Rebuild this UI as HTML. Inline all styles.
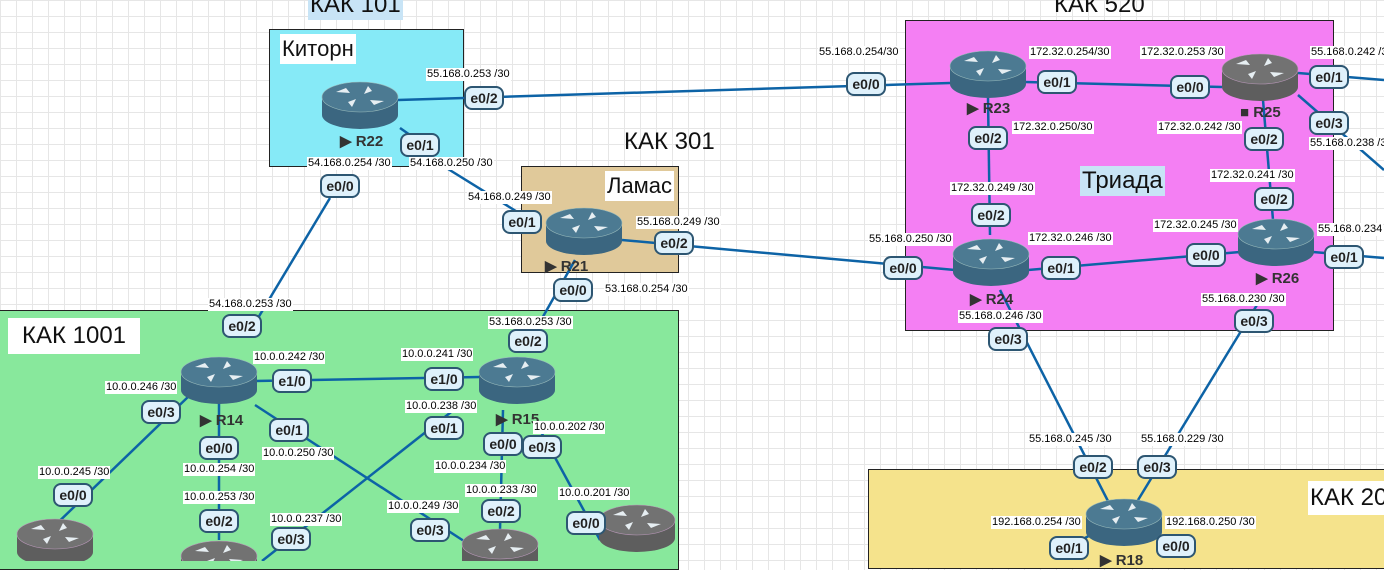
<!DOCTYPE html>
<html><head><meta charset="utf-8"><style>
body{margin:0;width:1384px;height:561px;overflow:hidden;position:relative;font-family:"Liberation Sans",sans-serif;
background-color:#fff;background-image:linear-gradient(#e6e6e6 1px,transparent 1px),linear-gradient(90deg,#e6e6e6 1px,transparent 1px);background-size:16px 16px;}
.b{position:absolute;border:1px solid #222;box-sizing:border-box}
.t{position:absolute;font-size:24px;color:#111;line-height:30px;padding:0 2px;white-space:nowrap}
.ip{position:absolute;background:#fff;font-size:11px;line-height:13px;color:#000;padding:0 1px;white-space:nowrap}
.p{position:absolute;width:36px;height:20px;border:2px solid #2d5672;border-radius:8px;background:#dff1fb;font-weight:bold;font-size:14px;line-height:20px;text-align:center;color:#222}
.n{position:absolute;font-weight:bold;font-size:15px;color:#333;white-space:nowrap}
svg{position:absolute;left:0;top:0}
</style></head><body>
<div class="b" style="left:269px;top:29px;width:195px;height:138px;background:#86eaf7"></div>
<div class="b" style="left:521px;top:166px;width:158px;height:107px;background:#e0c99a"></div>
<div class="b" style="left:905px;top:20px;width:429px;height:311px;background:#f47ff3"></div>
<div class="b" style="left:-2px;top:310px;width:681px;height:260px;background:#88e89c"></div>
<div class="b" style="left:868px;top:469px;width:520px;height:100px;background:#f5e38c"></div>

<div class="t" style="left:308px;top:-10px;background:#c8e4f6">КАК 101</div>
<div class="t" style="left:280px;top:34px;background:#fff;font-size:22px">Китoрн</div>
<div class="t" style="left:622px;top:127px">КАК 301</div>
<div class="t" style="left:605px;top:171px;background:#fff;font-size:22px">Ламас</div>
<div class="t" style="left:1052px;top:-10px">КАК 520</div>
<div class="t" style="left:1080px;top:166px;background:#c8e4f6">Триада</div>
<div class="t" style="left:8px;top:318px;background:#fff;padding:3px 14px">КАК 1001</div>
<div class="t" style="left:1308px;top:481px;background:#fff;padding:2px 20px 2px 2px">КАК 20</div>

<svg width="1384" height="561">
<g stroke="#0d63a6" stroke-width="2.5" fill="none">
<line x1="398" y1="100" x2="950" y2="83"/>
<line x1="400" y1="128" x2="420" y2="142"/>
<line x1="440" y1="164" x2="540" y2="226"/>
<line x1="330" y1="198" x2="258" y2="318"/>
<line x1="622" y1="240" x2="955" y2="270"/>
<line x1="575" y1="260" x2="527" y2="345"/>
<line x1="1025" y1="82" x2="1222" y2="87"/>
<line x1="988" y1="98" x2="990" y2="235"/>
<line x1="1263" y1="100" x2="1273" y2="220"/>
<line x1="1028" y1="270" x2="1240" y2="252"/>
<line x1="1298" y1="73" x2="1384" y2="80"/>
<line x1="1298" y1="95" x2="1384" y2="170"/>
<line x1="1313" y1="252" x2="1384" y2="258"/>
<line x1="1000" y1="290" x2="1110" y2="505"/>
<line x1="1260" y1="300" x2="1135" y2="505"/>
<line x1="255" y1="381" x2="480" y2="377"/>
<line x1="190" y1="395" x2="45" y2="535"/>
<line x1="255" y1="405" x2="470" y2="545"/>
<line x1="460" y1="405" x2="262" y2="561"/>
<line x1="219" y1="400" x2="219" y2="540"/>
<line x1="503" y1="410" x2="500" y2="530"/>
<line x1="540" y1="430" x2="600" y2="540"/>
<line x1="1068" y1="547" x2="1100" y2="530"/>
<line x1="1175" y1="545" x2="1150" y2="530"/>
</g>
<defs>
<g id="ar" fill="#e6eef2"><path d="M-24,-11 l14,1 -4,-5z M24,-2 l-14,-1 4,5z M-8,4 l4,-8 -8,3z M8,-17 l-4,8 8,-3z"/></g>
<g id="rb"><path d="M-38,-6 L-38,12 A38,14 0 0 0 38,12 L38,-6 Z" fill="#3b6680"/><ellipse cx="0" cy="-6" rx="38" ry="15" fill="#4c7a92" stroke="#9bb" stroke-width="0.6"/><use href="#ar"/></g>
<g id="rg"><path d="M-38,-6 L-38,12 A38,14 0 0 0 38,12 L38,-6 Z" fill="#5e5e5e"/><ellipse cx="0" cy="-6" rx="38" ry="15" fill="#727272" stroke="#b9b" stroke-width="0.6"/><use href="#ar"/></g>
</defs>
<use href="#rb" x="360" y="103"/>
<use href="#rb" x="584" y="229"/>
<use href="#rb" x="988" y="72"/>
<use href="#rg" x="1260" y="75"/>
<use href="#rb" x="991" y="260"/>
<use href="#rb" x="1276" y="240"/>
<use href="#rb" x="219" y="378"/>
<use href="#rb" x="517" y="378"/>
<use href="#rg" x="55" y="540"/>
<use href="#rg" x="219" y="562"/>
<use href="#rg" x="500" y="550"/>
<use href="#rg" x="637" y="526"/>
<use href="#rb" x="1124" y="520"/>
</svg>

<div class="n" style="left:340px;top:132px">▶ R22</div>
<div class="n" style="left:545px;top:257px">▶ R21</div>
<div class="n" style="left:967px;top:99px">▶ R23</div>
<div class="n" style="left:1240px;top:104px">■ R25</div>
<div class="n" style="left:970px;top:290px">▶ R24</div>
<div class="n" style="left:1256px;top:269px">▶ R26</div>
<div class="n" style="left:200px;top:411px">▶ R14</div>
<div class="n" style="left:496px;top:410px">▶ R15</div>
<div class="n" style="left:1100px;top:551px">▶ R18</div>

<div class="p" style="left:464px;top:86px">e0/2</div>
<div class="p" style="left:846px;top:72px">e0/0</div>
<div class="p" style="left:400px;top:133px">e0/1</div>
<div class="p" style="left:320px;top:174px">e0/0</div>
<div class="p" style="left:502px;top:210px">e0/1</div>
<div class="p" style="left:654px;top:231px">e0/2</div>
<div class="p" style="left:553px;top:278px">e0/0</div>
<div class="p" style="left:1037px;top:70px">e0/1</div>
<div class="p" style="left:1170px;top:75px">e0/0</div>
<div class="p" style="left:1309px;top:65px">e0/1</div>
<div class="p" style="left:1309px;top:111px">e0/3</div>
<div class="p" style="left:968px;top:126px">e0/2</div>
<div class="p" style="left:1244px;top:127px">e0/2</div>
<div class="p" style="left:1254px;top:187px">e0/2</div>
<div class="p" style="left:971px;top:203px">e0/2</div>
<div class="p" style="left:1186px;top:243px">e0/0</div>
<div class="p" style="left:1324px;top:245px">e0/1</div>
<div class="p" style="left:883px;top:256px">e0/0</div>
<div class="p" style="left:1041px;top:256px">e0/1</div>
<div class="p" style="left:1234px;top:309px">e0/3</div>
<div class="p" style="left:988px;top:327px">e0/3</div>
<div class="p" style="left:1073px;top:455px">e0/2</div>
<div class="p" style="left:1137px;top:455px">e0/3</div>
<div class="p" style="left:1049px;top:536px">e0/1</div>
<div class="p" style="left:1156px;top:534px">e0/0</div>
<div class="p" style="left:222px;top:314px">e0/2</div>
<div class="p" style="left:508px;top:329px">e0/2</div>
<div class="p" style="left:272px;top:369px">e1/0</div>
<div class="p" style="left:424px;top:367px">e1/0</div>
<div class="p" style="left:141px;top:400px">e0/3</div>
<div class="p" style="left:269px;top:418px">e0/1</div>
<div class="p" style="left:424px;top:416px">e0/1</div>
<div class="p" style="left:199px;top:436px">e0/0</div>
<div class="p" style="left:483px;top:432px">e0/0</div>
<div class="p" style="left:522px;top:435px">e0/3</div>
<div class="p" style="left:53px;top:483px">e0/0</div>
<div class="p" style="left:481px;top:499px">e0/2</div>
<div class="p" style="left:199px;top:509px">e0/2</div>
<div class="p" style="left:566px;top:511px">e0/0</div>
<div class="p" style="left:271px;top:527px">e0/3</div>
<div class="p" style="left:410px;top:518px">e0/3</div>

<div class="ip" style="left:426px;top:68px">55.168.0.253 /30</div>
<div class="ip" style="left:307px;top:157px">54.168.0.254 /30</div>
<div class="ip" style="left:409px;top:157px">54.168.0.250 /30</div>
<div class="ip" style="left:467px;top:191px">54.168.0.249 /30</div>
<div class="ip" style="left:636px;top:216px">55.168.0.249 /30</div>
<div class="ip" style="left:604px;top:283px">53.168.0.254 /30</div>
<div class="ip" style="left:208px;top:298px">54.168.0.253 /30</div>
<div class="ip" style="left:488px;top:316px">53.168.0.253 /30</div>
<div class="ip" style="left:818px;top:46px">55.168.0.254/30</div>
<div class="ip" style="left:1029px;top:46px">172.32.0.254/30</div>
<div class="ip" style="left:1140px;top:46px">172.32.0.253 /30</div>
<div class="ip" style="left:1310px;top:46px">55.168.0.242 /30</div>
<div class="ip" style="left:1012px;top:121px">172.32.0.250/30</div>
<div class="ip" style="left:1157px;top:121px">172.32.0.242 /30</div>
<div class="ip" style="left:1309px;top:137px">55.168.0.238 /30</div>
<div class="ip" style="left:950px;top:182px">172.32.0.249 /30</div>
<div class="ip" style="left:1210px;top:169px">172.32.0.241 /30</div>
<div class="ip" style="left:1028px;top:232px">172.32.0.246 /30</div>
<div class="ip" style="left:1153px;top:219px">172.32.0.245 /30</div>
<div class="ip" style="left:1317px;top:223px">55.168.0.234</div>
<div class="ip" style="left:868px;top:233px">55.168.0.250 /30</div>
<div class="ip" style="left:1201px;top:293px">55.168.0.230 /30</div>
<div class="ip" style="left:958px;top:310px">55.168.0.246 /30</div>
<div class="ip" style="left:253px;top:351px">10.0.0.242 /30</div>
<div class="ip" style="left:401px;top:348px">10.0.0.241 /30</div>
<div class="ip" style="left:105px;top:381px">10.0.0.246 /30</div>
<div class="ip" style="left:405px;top:400px">10.0.0.238 /30</div>
<div class="ip" style="left:533px;top:421px">10.0.0.202 /30</div>
<div class="ip" style="left:262px;top:447px">10.0.0.250 /30</div>
<div class="ip" style="left:183px;top:463px">10.0.0.254 /30</div>
<div class="ip" style="left:434px;top:460px">10.0.0.234 /30</div>
<div class="ip" style="left:38px;top:466px">10.0.0.245 /30</div>
<div class="ip" style="left:465px;top:484px">10.0.0.233 /30</div>
<div class="ip" style="left:183px;top:491px">10.0.0.253 /30</div>
<div class="ip" style="left:558px;top:487px">10.0.0.201 /30</div>
<div class="ip" style="left:270px;top:513px">10.0.0.237 /30</div>
<div class="ip" style="left:387px;top:500px">10.0.0.249 /30</div>
<div class="ip" style="left:1028px;top:433px">55.168.0.245 /30</div>
<div class="ip" style="left:1140px;top:433px">55.168.0.229 /30</div>
<div class="ip" style="left:991px;top:516px">192.168.0.254 /30</div>
<div class="ip" style="left:1165px;top:516px">192.168.0.250 /30</div>
</body></html>
